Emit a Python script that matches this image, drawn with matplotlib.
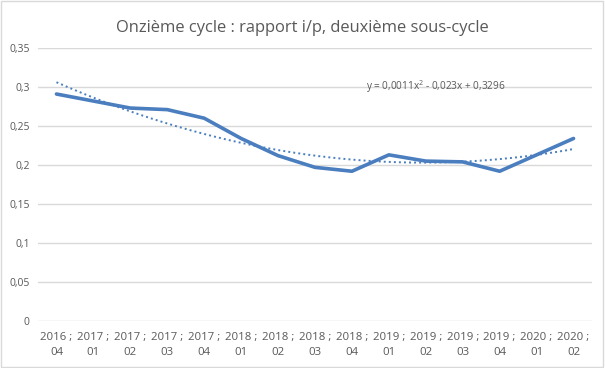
import numpy as np
import matplotlib
matplotlib.use("Agg")
import matplotlib.pyplot as plt
from matplotlib.patches import Rectangle

categories = ["2016 ;\n04", "2017 ;\n01", "2017 ;\n02", "2017 ;\n03", "2017 ;\n04",
              "2018 ;\n01", "2018 ;\n02", "2018 ;\n03", "2018 ;\n04", "2019 ;\n01",
              "2019 ;\n02", "2019 ;\n03", "2019 ;\n04", "2020 ;\n01", "2020 ;\n02"]
ratio = [0.291, 0.282, 0.273, 0.271, 0.260, 0.234, 0.212, 0.197, 0.192,
         0.213, 0.205, 0.204, 0.192, 0.213, 0.234]
y_ticks = [0, 0.05, 0.1, 0.15, 0.2, 0.25, 0.3, 0.35]
y_labels = ["0", "0,05", "0,1", "0,15", "0,2", "0,25", "0,3", "0,35"]
title = "Onzième cycle : rapport i/p, deuxième sous-cycle"
equation = "y = 0,0011x$^{2}$ - 0,023x + 0,3296"

plt.rcParams['font.family'] = ['Open Sans', 'DejaVu Sans']
plt.rcParams['mathtext.fontset'] = 'custom'
plt.rcParams['mathtext.rm'] = 'Open Sans'
grey = "#595959"
blue = "#4a7ebf"

fig = plt.figure(figsize=(6.05, 3.68), dpi=100)
fig.patches.append(Rectangle((0.002, 0.003), 0.995, 0.994, transform=fig.transFigure,
                             fill=False, edgecolor="#d9d9d9", linewidth=1))
ax = fig.add_axes([38 / 605, 47 / 368, 554 / 605, 273 / 368])

x = np.arange(len(categories))
ax.plot(x, ratio, color=blue, linewidth=2.6, solid_capstyle="round", zorder=3)

# polynomial trend line (order 2) fitted on the data
coef = np.polyfit(x + 1, ratio, 2)
xt = np.linspace(1, len(categories), 200)
ax.plot(xt - 1, np.polyval(coef, xt), color=blue, linewidth=1.4,
        linestyle=(0, (1, 1.6)), zorder=2)

ax.set_xlim(-0.5, len(categories) - 0.5)
ax.set_ylim(0, 0.35)
ax.set_yticks(y_ticks)
ax.set_yticklabels(y_labels)
ax.set_xticks(x)
ax.set_xticklabels(categories, linespacing=1.45)
ax.tick_params(axis="both", length=0, colors=grey, labelsize=7.5)
ax.tick_params(axis="x", labelsize=8.2, pad=8)
ax.tick_params(axis="y", pad=6)
ax.grid(axis="y", color="#d9d9d9", linewidth=1)
ax.set_axisbelow(True)
for s in ax.spines.values():
    s.set_visible(False)

ax.text(10.28, 0.301, equation, fontsize=7.2, color=grey, ha="center", va="center")
fig.text(0.5, 0.925, title, ha="center", va="center", fontsize=11.9, color=grey)

fig.savefig("out.png", dpi=100)
